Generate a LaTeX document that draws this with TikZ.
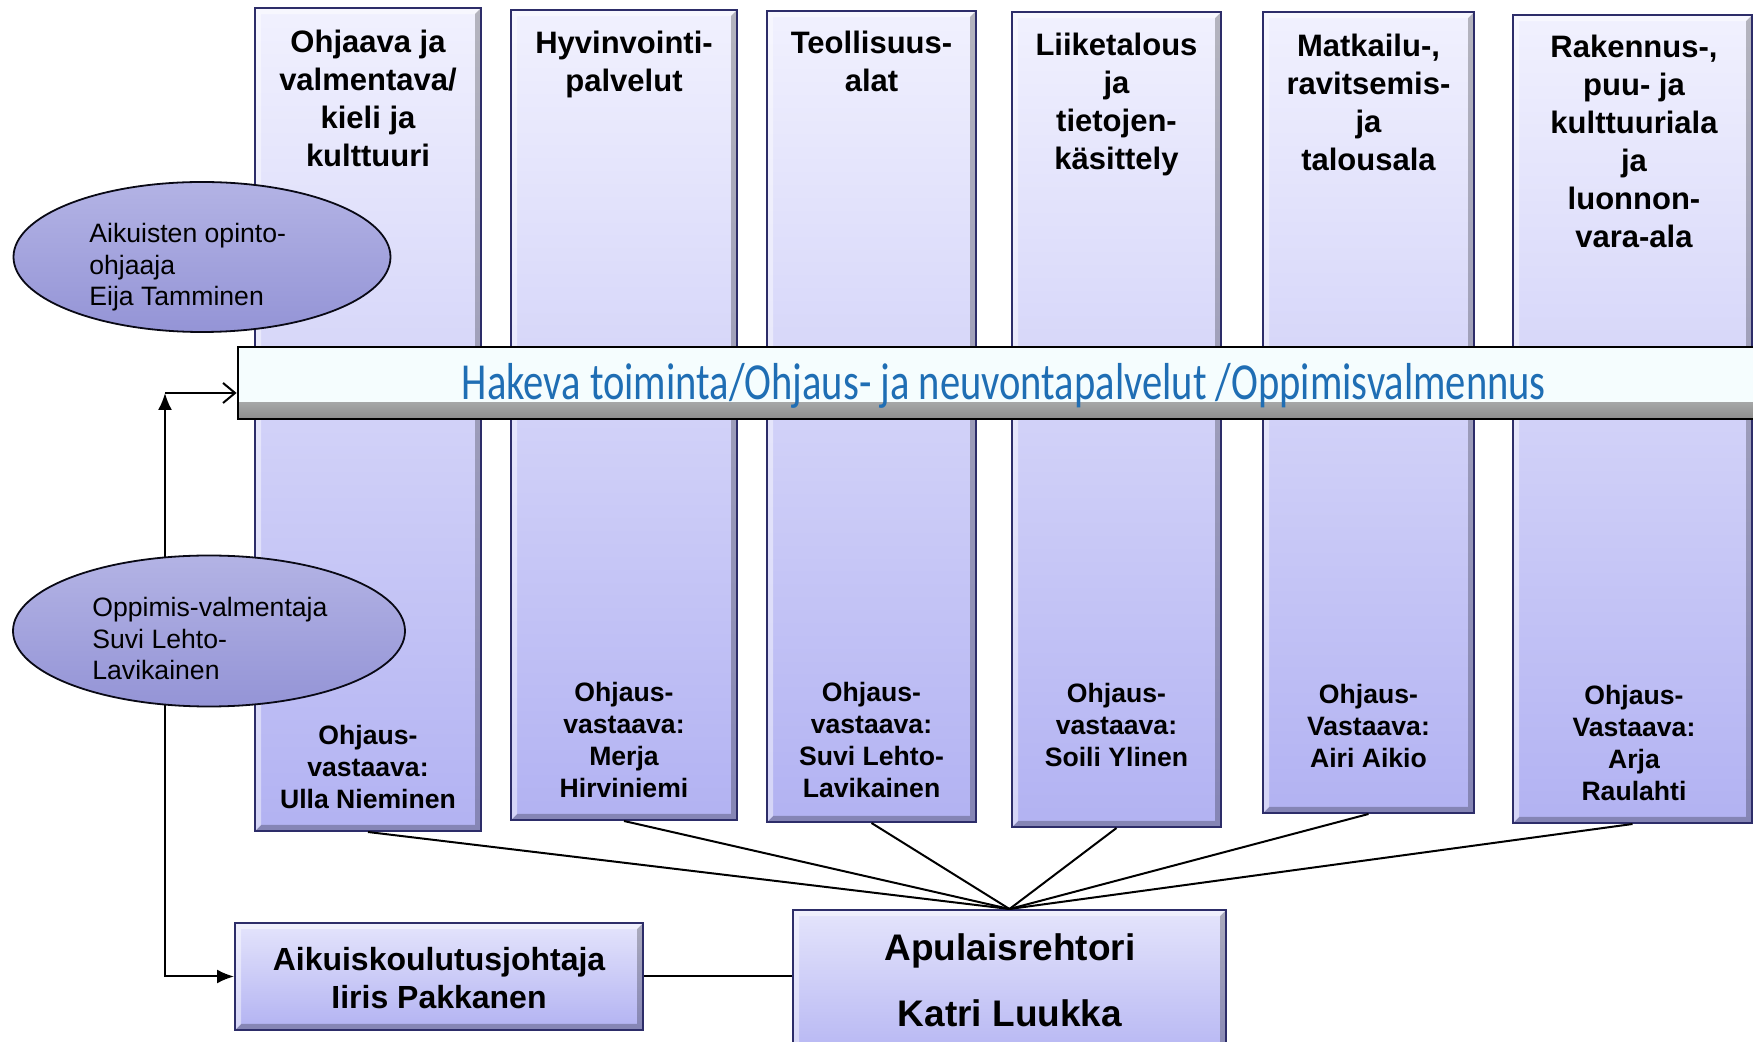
\documentclass[tikz,border=0pt]{standalone}
\usepackage{fontspec}
\setmainfont{Liberation Sans}
\newfontfamily\calib{Carlito}
\usetikzlibrary{fit,arrows.meta,shapes.geometric,calc}
\definecolor{coltop}{RGB}{241,241,254}
\definecolor{colbot}{RGB}{178,178,242}
\definecolor{navy}{RGB}{45,45,105}
\definecolor{ellfill}{RGB}{160,160,222}
\definecolor{ellfillb}{RGB}{148,148,214}
\definecolor{banfill}{RGB}{245,253,254}
\definecolor{bantext}{RGB}{31,110,180}
\tikzset{
  bevel/.style={path picture={
    \fill[black,opacity=.25] (path picture bounding box.north east) -- ([shift={(-3pt,-3pt)}]path picture bounding box.north east) -- ([shift={(-3pt,3pt)}]path picture bounding box.south east) -- ([shift={(3pt,3pt)}]path picture bounding box.south west) -- (path picture bounding box.south west) -- (path picture bounding box.south east) -- cycle;
    \fill[white,opacity=.45] (path picture bounding box.south west) -- ([shift={(3pt,3pt)}]path picture bounding box.south west) -- ([shift={(3pt,-3pt)}]path picture bounding box.north west) -- ([shift={(-3pt,-3pt)}]path picture bounding box.north east) -- (path picture bounding box.north east) -- (path picture bounding box.north west) -- cycle;
  }},
  colbox/.style={rectangle, inner sep=0pt, draw=navy, line width=1pt, top color=coltop, bottom color=colbot, bevel},
  botbox/.style={rectangle, inner sep=0pt, draw=navy, line width=1pt, top color=coltop!80!colbot, bottom color=colbot, bevel},
  banner/.style={rectangle, inner sep=0pt, draw=black, line width=1.4pt, fill=banfill, path picture={
    \shade[top color=banfill, bottom color=black!45] ([yshift=8pt]path picture bounding box.south west) rectangle (path picture bounding box.south east);}},
  ell/.style={ellipse, inner sep=0pt, draw=black!80!navy, line width=0.9pt, top color=ellfill!80!white, bottom color=ellfillb},
  toptxt/.style={font=\bfseries\fontsize{15.5}{19}\selectfont, align=center, anchor=north, inner sep=0pt},
  bottxt/.style={font=\bfseries\fontsize{13.3}{16}\selectfont, align=center, anchor=north, inner sep=0pt},
  elltxt/.style={font=\fontsize{13.3}{15.8}\selectfont, align=left, anchor=north west, inner sep=0pt},
  conn/.style={draw=black, line width=1pt},
  filltip/.style={-{Latex[length=8.5pt,width=7pt]}},
}
\begin{document}
\begin{tikzpicture}[x=0.5pt,y=-0.5pt]
\useasboundingbox (0,0) rectangle (1753,1042);
\clip (0,0) rectangle (1753,1042);
\fill[white] (0,0) rectangle (1753,1042);

% columns
\node[colbox, fit={(255,8) (481,831)}] (c1) {};
\node[colbox, fit={(511,10) (737,820)}] (c2) {};
\node[colbox, fit={(767,11) (976,822)}] (c3) {};
\node[colbox, fit={(1012,12) (1221,827)}] (c4) {};
\node[colbox, fit={(1263,12) (1474,813)}] (c5) {};
\node[colbox, fit={(1513,15) (1752,823)}] (c6) {};

% column titles
\node[toptxt] (t1) at (368,30) {Ohjaava ja\\valmentava/\\kieli ja\\kulttuuri};
\node[toptxt] (t2) at (624,31) {Hyvinvointi-\\palvelut};
\node[toptxt] (t3) at (871.5,31) {Teollisuus-\\alat};
\node[toptxt] (t4) at (1116.5,33) {Liiketalous\\ja\\tietojen-\\käsittely};
\node[toptxt] (t5) at (1368.5,34) {Matkailu-,\\ravitsemis-\\ja\\talousala};
\node[toptxt] (t6) at (1634,35) {Rakennus-,\\puu- ja\\kulttuuriala\\ja\\luonnon-\\vara-ala};

% column responsibles
\node[bottxt] (b1) at (368,725) {Ohjaus-\\vastaava:\\Ulla Nieminen};
\node[bottxt] (b2) at (624,682) {Ohjaus-\\vastaava:\\Merja\\Hirviniemi};
\node[bottxt] (b3) at (871.5,682) {Ohjaus-\\vastaava:\\Suvi Lehto-\\Lavikainen};
\node[bottxt] (b4) at (1116.5,683) {Ohjaus-\\vastaava:\\Soili Ylinen};
\node[bottxt] (b5) at (1368.5,684) {Ohjaus-\\Vastaava:\\Airi Aikio};
\node[bottxt] (b6) at (1634,685) {Ohjaus-\\Vastaava:\\Arja\\Raulahti};

% banner
\node[banner, fit={(238,347) (1770,419)}] (ban) {};
\node[anchor=base, inner sep=0pt, text=bantext, font=\calib\fontsize{26}{30}\selectfont] (bant) at (1004,400)
  {\resizebox{542pt}{\height}{Hakeva toiminta/Ohjaus- ja neuvontapalvelut /Oppimisvalmennus}};

% bottom boxes
\node[botbox, fit={(235,923) (643,1030)}] (aik) {};
\node[anchor=north, inner sep=0pt, align=center, font=\bfseries\fontsize{16}{19}\selectfont] (aikt) at (439,947) {Aikuiskoulutusjohtaja\\Iiris Pakkanen};
\node[botbox, fit={(793,910) (1226,1070)}] (apu) {};
\node[anchor=north, inner sep=0pt, align=center, font=\bfseries\fontsize{18.5}{33}\selectfont] (aput) at (1010,933) {Apulaisrehtori\\Katri Luukka};

% connectors to Apulaisrehtori
\foreach \c in {c1,c2,c3,c4,c5,c6}{
  \draw[conn] (\c.south) -- (apu.north);
}
\draw[conn] (aik.east) -- (aik.east -| apu.west);

% upper ellipse
\node[ell, minimum width=188.5pt, minimum height=75pt] (e1) at (202,257) {};
\node[elltxt] (e1t) at (89,223) {Aikuisten opinto-\\ohjaaja\\Eija Tamminen};

% arrows from the coach ellipse
\coordinate (up) at (165,393);
\coordinate (e2c) at (209,631);
\draw[conn,filltip] (e2c -| up) -- (up);
\draw[conn,-{Straight Barb[length=6pt,width=10pt]}] (up) -- (ban.west |- up);
\draw[conn,filltip] (e2c -| up) |- (aik.west);

\node[ell, minimum width=196pt, minimum height=75.5pt] (e2) at (e2c) {};
\node[elltxt] (e2t) at (92,597) {Oppimis-valmentaja\\Suvi Lehto-\\Lavikainen};
\end{tikzpicture}
\end{document}
